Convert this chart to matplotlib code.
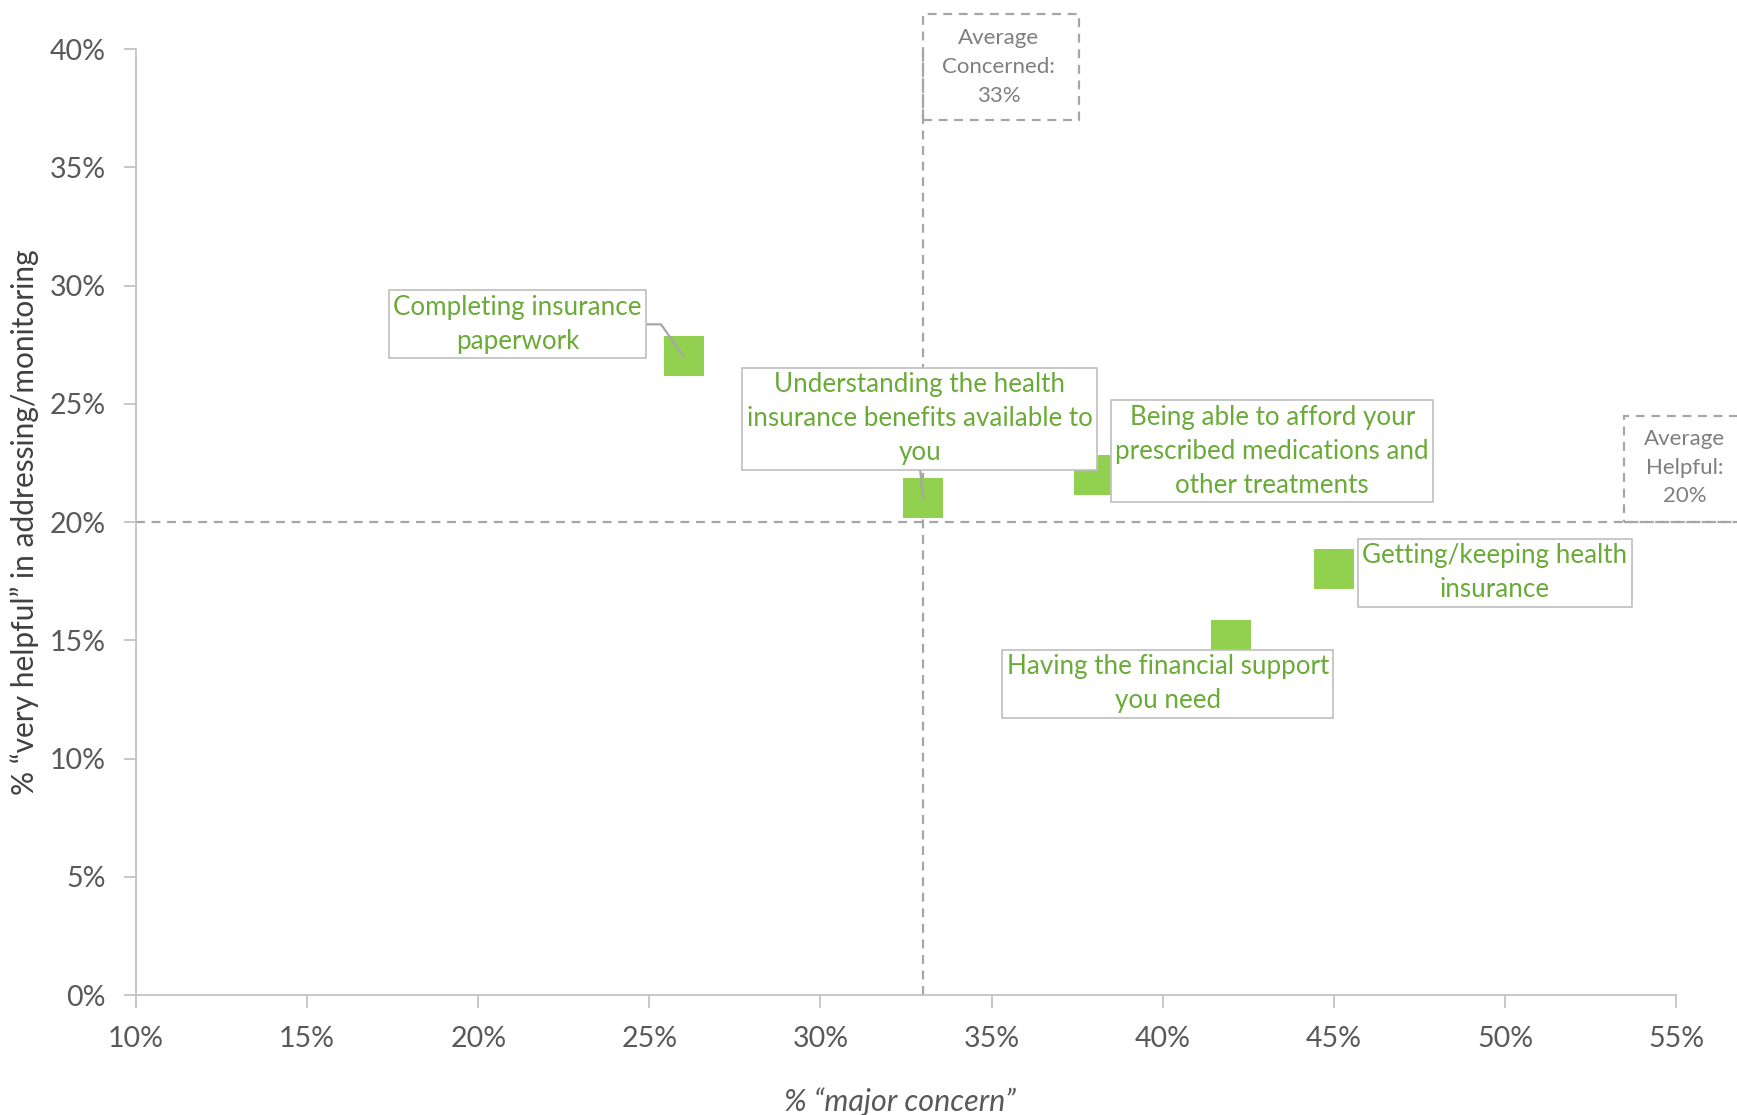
import matplotlib.pyplot as plt
from matplotlib.patches import Rectangle
from matplotlib.ticker import FuncFormatter

# data (percent)
labels = ['Completing insurance\npaperwork',
          'Understanding the health\ninsurance benefits available to\nyou',
          'Being able to afford your\nprescribed medications and\nother treatments',
          'Getting/keeping health\ninsurance',
          'Having the financial support\nyou need']
concern = [26, 33, 38, 45, 42]
helpful = [27, 21, 22, 18, 15]
avg_concern = 33
avg_helpful = 20

# where the label boxes sit (data coords)
label_x = [21.15, 32.9, 43.2, 49.7, 40.15]
label_y = [28.36, 24.36, 23.0, 17.86, 13.16]

green = '#92D050'
text_green = '#6AAB38'
grey = '#A6A6A6'
tick_grey = '#595959'

plt.rcParams['font.family'] = ['Lato', 'DejaVu Sans']

fig = plt.figure(figsize=(17.37, 11.15), dpi=100)
ax = fig.add_axes([0.0783, 0.1076, 0.8866, 0.8484])

ax.scatter(concern, helpful, marker='s', s=830, color=green, zorder=3, linewidths=0)

ax.set_xlim(10, 55)
ax.set_ylim(0, 40)
ax.set_xticks(range(10, 56, 5))
ax.set_yticks(range(0, 41, 5))
pct = FuncFormatter(lambda v, p: f'{v:.0f}%')
ax.xaxis.set_major_formatter(pct)
ax.yaxis.set_major_formatter(pct)
ax.tick_params(axis='both', length=9, width=1.2, color='#BFBFBF', labelcolor=tick_grey,
               labelsize=20.5, pad=13)
for s in ['top', 'right']:
    ax.spines[s].set_visible(False)
for s in ['left', 'bottom']:
    ax.spines[s].set_color('#BFBFBF')
    ax.spines[s].set_linewidth(1.2)

# average lines
ax.plot([avg_concern, avg_concern], [0, 40], ls=(0, (4, 3)), color=grey, lw=1.6, zorder=2)
ax.plot([10, 57], [avg_helpful, avg_helpful], ls=(0, (4, 3)), color=grey, lw=1.6, zorder=2,
        clip_on=False)

ax.add_patch(Rectangle((avg_concern, 37.0), 4.55, 4.5, fill=False, ls=(0, (4, 3)),
                       ec=grey, lw=1.6, clip_on=False, zorder=2))
ax.text(35.2, 39.25, f'Average\nConcerned:\n{avg_concern}%', ha='center', va='center',
        fontsize=16, color='#7F7F7F', linespacing=1.55, clip_on=False)
ax.add_patch(Rectangle((53.48, avg_helpful), 4, 4.5, fill=False, ls=(0, (4, 3)),
                       ec=grey, lw=1.6, clip_on=False, zorder=2))
ax.text(55.25, 22.3, f'Average\nHelpful:\n{avg_helpful}%', ha='center', va='center',
        fontsize=16, color='#7F7F7F', linespacing=1.55, clip_on=False)

box = dict(boxstyle='square,pad=0.17', fc='white', ec='#BFBFBF', lw=1.2)
for i, lab in enumerate(labels):
    arrow = None
    if i == 0:
        arrow = dict(arrowstyle='-', color='#A6A6A6', lw=1.6, shrinkA=0, shrinkB=0,
                     relpos=(1, 0.5), connectionstyle='angle,angleA=0,angleB=125,rad=0')
    elif i == 1:
        arrow = dict(arrowstyle='-', color='#A6A6A6', lw=1.6, shrinkA=0, shrinkB=0,
                     relpos=(0.5, 0))
    ax.annotate(lab, xy=(concern[i], helpful[i]), xytext=(label_x[i], label_y[i]),
                ha='center', va='center', fontsize=18.7, color=text_green,
                linespacing=1.45, bbox=box, arrowprops=arrow, zorder=4)

ax.set_ylabel('% \u201cvery helpful\u201d in addressing/monitoring', fontsize=21.5,
              color='#404040')
ax.yaxis.set_label_coords(-0.063, 0.5)
ax.set_xlabel('% \u201cmajor concern\u201d', fontsize=22, color='#595959', style='italic')
ax.xaxis.set_label_coords(0.496, -0.098)

fig.savefig('out.png', dpi=100)
